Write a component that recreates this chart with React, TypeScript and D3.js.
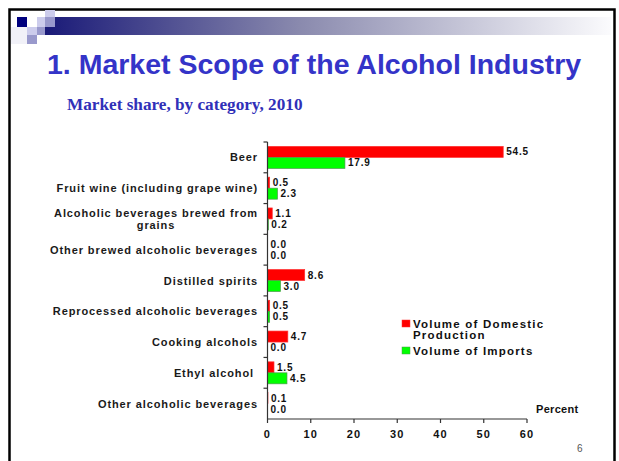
import React, { useEffect, useRef } from "react";
import * as d3 from "d3";

// Market share by category, 2010 (percent)
const categories = [
  "Beer",
  "Fruit wine (including grape wine)",
  "Alcoholic beverages brewed from\ngrains",
  "Other brewed alcoholic beverages",
  "Distilled spirits",
  "Reprocessed alcoholic beverages",
  "Cooking alcohols",
  "Ethyl alcohol ",
  "Other alcoholic beverages",
];
const domestic = [54.5, 0.5, 1.1, 0.0, 8.6, 0.5, 4.7, 1.5, 0.1];
const imports = [17.9, 2.3, 0.2, 0.0, 3.0, 0.5, 0.0, 4.5, 0.0];
const seriesNames = ["Volume of Domestic\nProduction", "Volume of Imports"];
const xTicks = [0, 10, 20, 30, 40, 50, 60];

const W = 619;
const H = 461;
const FONT = "'Liberation Sans', Arial, Helvetica, sans-serif";
const SERIF = "'Liberation Serif', 'Times New Roman', serif";
const TITLE_BLUE = "#3434c8";
const colors = ["#ff0000", "#00ff00"];
const strokes = ["#ff3030", "#4c9a4c"];

export default function App() {
  const ref = useRef<SVGSVGElement | null>(null);

  useEffect(() => {
    const svg = d3.select(ref.current);
    svg.selectAll("*").remove();

    const defs = svg.append("defs");
    const grad = defs
      .append("linearGradient")
      .attr("id", "hdr")
      .attr("x1", "0%")
      .attr("x2", "100%");
    grad.append("stop").attr("offset", "0%").attr("stop-color", "#1a1a78");
    grad.append("stop").attr("offset", "45%").attr("stop-color", "#8a8aae");
    grad.append("stop").attr("offset", "100%").attr("stop-color", "#fbfbfd");

    svg.append("rect").attr("width", W).attr("height", H).attr("fill", "#fff");

    // slide frame
    svg
      .append("path")
      .attr("d", `M9.5,${H + 5} V9.5 H614.5 V${H + 5}`)
      .attr("fill", "none")
      .attr("stroke", "#000")
      .attr("stroke-width", 2.5);

    // header band with decorative squares
    svg.append("rect").attr("x", 45).attr("y", 17).attr("width", 566).attr("height", 18).attr("fill", "url(#hdr)");
    const squares: [number, number, number, number, string][] = [
      [11, 27, 16, 17, "#f1f1f8"],
      [17, 17, 10, 10, "#00007e"],
      [37, 17, 8, 10, "#ccccec"],
      [45, 10, 10, 7, "#ccccec"],
      [45, 17, 10, 10, "#9999cc"],
      [27, 27, 10, 8, "#ccccec"],
      [37, 27, 8, 8, "#9999cc"],
      [27, 35, 10, 9, "#9999cc"],
    ];
    squares.forEach(([x, y, w, h, c]) =>
      svg.append("rect").attr("x", x).attr("y", y).attr("width", w).attr("height", h).attr("fill", c)
    );

    svg
      .append("text")
      .attr("x", 47)
      .attr("y", 74)
      .attr("font-family", FONT)
      .attr("font-weight", "bold")
      .attr("font-size", 28.5)
      .attr("fill", TITLE_BLUE)
      .text("1. Market Scope of the Alcohol Industry");

    svg
      .append("text")
      .attr("x", 67)
      .attr("y", 110)
      .attr("font-family", SERIF)
      .attr("font-weight", "bold")
      .attr("font-size", 17.2)
      .attr("fill", "#3030b8")
      .text("Market share, by category, 2010");

    // scales
    const x = d3.scaleLinear().domain([0, 60]).range([267.5, 527]);
    const y = d3.scaleBand<string>().domain(categories).range([142, 419]).padding(0);
    const sub = d3
      .scaleBand<number>()
      .domain([0, 1])
      .range([0, y.bandwidth()])
      .paddingInner(0)
      .paddingOuter(0.4);

    const g = svg.append("g");

    // bars
    const series = [domestic, imports];
    series.forEach((vals, si) => {
      g.selectAll(`.bar${si}`)
        .data(vals)
        .enter()
        .append("rect")
        .attr("x", x(0))
        .attr("y", (_, i) => (y(categories[i]) as number) + (sub(si) as number))
        .attr("width", (d) => x(d) - x(0))
        .attr("height", sub.bandwidth())
        .attr("fill", colors[si])
        .attr("stroke", (d) => (d > 0 ? strokes[si] : "none"))
        .attr("stroke-width", 0.7);

      g.selectAll(`.val${si}`)
        .data(vals)
        .enter()
        .append("text")
        .attr("x", (d) => x(d) + 3)
        .attr("y", (_, i) => (y(categories[i]) as number) + (sub(si) as number) + sub.bandwidth() / 2)
        .attr("dy", "0.36em")
        .attr("font-family", FONT)
        .attr("font-weight", "bold")
        .attr("font-size", 10)
        .attr("letter-spacing", 0.8)
        .attr("fill", "#111")
        .text((d) => d.toFixed(1));
    });

    // y axis
    const axisColor = "#333";
    g.append("line")
      .attr("x1", x(0))
      .attr("x2", x(0))
      .attr("y1", 142)
      .attr("y2", 419)
      .attr("stroke", axisColor)
      .attr("stroke-width", 1.2);
    const bounds = categories.map((c) => y(c) as number);
    bounds.forEach((b) =>
      g.append("line")
        .attr("x1", x(0) - 4)
        .attr("x2", x(0))
        .attr("y1", b)
        .attr("y2", b)
        .attr("stroke", axisColor)
        .attr("stroke-width", 1.2)
    );

    // category labels
    const labelSize = 11;
    const labelSpacing = 0.9;
    categories.forEach((c) => {
      const lines = c.split("\n");
      const cy = (y(c) as number) + y.bandwidth() / 2;
      const t = g
        .append("text")
        .attr("font-family", FONT)
        .attr("font-weight", "bold")
        .attr("font-size", labelSize)
        .attr("letter-spacing", labelSpacing)
        .attr("fill", "#1a1a1a")
        .style("white-space", "pre");
      const right = 258;
      if (lines.length === 1) {
        t.attr("x", right).attr("y", cy + 4).attr("text-anchor", "end").text(lines[0]);
      } else {
        const probe = g
          .append("text")
          .attr("font-family", FONT)
          .attr("font-weight", "bold")
          .attr("font-size", labelSize)
          .attr("letter-spacing", labelSpacing)
          .text(lines[0]);
        const w = (probe.node() as SVGTextElement).getComputedTextLength();
        probe.remove();
        const mid = right - w / 2;
        t.attr("text-anchor", "middle");
        lines.forEach((ln, li) =>
          t.append("tspan")
            .attr("x", mid)
            .attr("y", cy - 2 + li * 12)
            .text(ln)
        );
      }
    });

    // x axis
    g.append("line")
      .attr("x1", x(0))
      .attr("x2", x(60))
      .attr("y1", 419)
      .attr("y2", 419)
      .attr("stroke", axisColor)
      .attr("stroke-width", 1.2);
    xTicks.forEach((tk) => {
      g.append("line")
        .attr("x1", x(tk))
        .attr("x2", x(tk))
        .attr("y1", 419)
        .attr("y2", 423)
        .attr("stroke", axisColor)
        .attr("stroke-width", 1.2);
      g.append("text")
        .attr("x", x(tk))
        .attr("y", 438)
        .attr("text-anchor", "middle")
        .attr("font-family", FONT)
        .attr("font-weight", "bold")
        .attr("font-size", 11)
        .attr("letter-spacing", 1.2)
        .attr("fill", "#111")
        .text(String(tk));
    });

    g.append("text")
      .attr("x", 536)
      .attr("y", 413)
      .attr("font-family", FONT)
      .attr("font-weight", "bold")
      .attr("font-size", 11)
      .attr("letter-spacing", 0.3)
      .attr("fill", "#111")
      .text("Percent");

    // legend
    const legendY = [320, 347];
    seriesNames.forEach((name, si) => {
      g.append("rect")
        .attr("x", 402)
        .attr("y", legendY[si])
        .attr("width", 8)
        .attr("height", 7)
        .attr("fill", colors[si])
        .attr("stroke", strokes[si])
        .attr("stroke-width", 0.5);
      const t = g
        .append("text")
        .attr("font-family", FONT)
        .attr("font-weight", "bold")
        .attr("font-size", 11.5)
        .attr("letter-spacing", 1.2)
        .attr("fill", "#111");
      name.split("\n").forEach((ln, li) =>
        t.append("tspan")
          .attr("x", 413)
          .attr("y", legendY[si] + 7.5 + li * 11)
          .text(ln)
      );
    });

    // page number
    svg
      .append("text")
      .attr("x", 577)
      .attr("y", 452)
      .attr("font-family", FONT)
      .attr("font-size", 10)
      .attr("fill", "#555")
      .text("6");
  }, []);

  return (
    <svg
      ref={ref}
      width={W}
      height={H}
      style={{ position: "absolute", left: 0, top: 0, display: "block" }}
    />
  );
}
